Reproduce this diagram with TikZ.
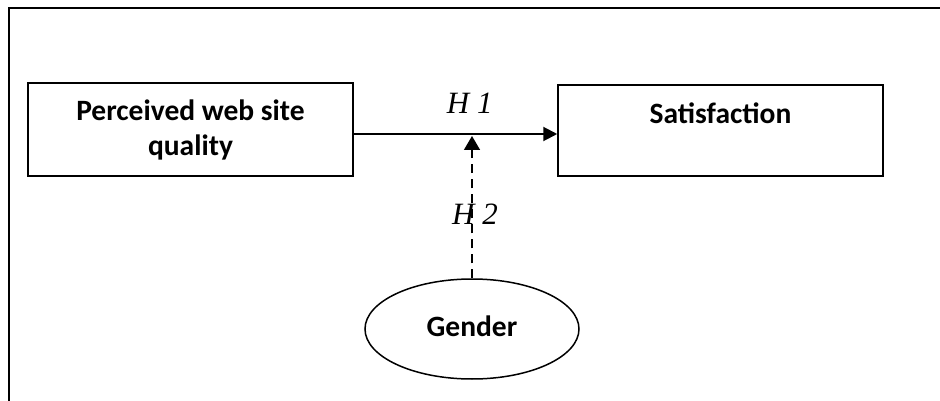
\documentclass[tikz,border=0pt]{standalone}
\usepackage{fontspec}
\setmainfont{Carlito}
\newfontfamily\hfont{Liberation Serif}
\usetikzlibrary{shapes.geometric,arrows.meta}
\tikzstyle{bx}=[draw,line width=1.5pt,inner sep=0pt,minimum width=325pt,align=center,font=\fontsize{29.5}{35}\selectfont\bfseries]
\tikzstyle{ov}=[ellipse,draw,line width=1.5pt,inner sep=0pt,minimum width=214pt,minimum height=100pt,font=\fontsize{29.5}{35}\selectfont\bfseries]
\tikzstyle{to}=[-{Triangle[length=14pt,width=14pt]},line width=2pt]
\tikzstyle{dto}=[-{Triangle[length=14pt,width=16pt]},line width=1.5pt,dash pattern=on 9pt off 6pt]
\tikzstyle{hl}=[font=\fontsize{31}{36}\selectfont\hfont\itshape,inner sep=0pt]

\begin{document}
\begin{tikzpicture}[x=1pt,y=-1pt]
            \useasboundingbox (0,0) rectangle (940,401);
            \draw[line width=2pt] (9,401) -- (9,8) -- (940,8);
            \node[bx,minimum height=93pt] (L) at (190.5,129.5) {\raisebox{-3pt}{Perceived web site}\\\raisebox{-3pt}{quality}}
            ;
            \node[bx,minimum height=91pt] (S) at (720.5,130.5) {Satisfaction\\\mbox{}}
            ;
            \node[ov] (G) at (472,329) {\raisebox{5pt}{Gender}}
            ;
            \coordinate (M) at (472,136);
            \draw[to] ([yshift=-4.5pt]L.east) -- node[hl,pos=0.57,yshift=31pt] (H1) {H 1} ([yshift=-3.5pt]S.west);
            \draw[dto] (G.north) -- node[hl,pos=0.45,xshift=3pt] (H2) {H 2} (M);
        \end{tikzpicture}
\end{document}
